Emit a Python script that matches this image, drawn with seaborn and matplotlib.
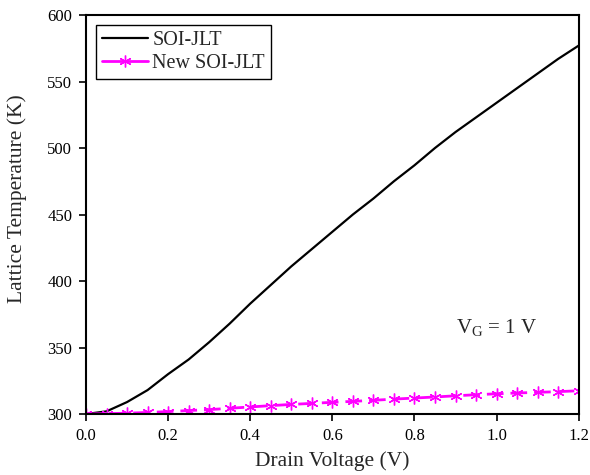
import matplotlib
matplotlib.use("Agg")
import matplotlib.pyplot as plt
import seaborn as sns
import pandas as pd

vd = [0.0, 0.05, 0.1, 0.15, 0.2, 0.25, 0.3, 0.35, 0.4, 0.45, 0.5, 0.55, 0.6,
      0.65, 0.7, 0.75, 0.8, 0.85, 0.9, 0.95, 1.0, 1.05, 1.1, 1.15, 1.2]
soi_jlt = [300, 302, 309, 318, 330, 341, 354, 368, 383, 397, 411, 424, 437,
           450, 462, 475, 487, 500, 512, 523, 534, 545, 556, 567, 577]
new_soi_jlt = [300, 300.3, 300.6, 301.2, 301.8, 302.6, 303.3, 304.3, 305.3, 306.3,
               307.2, 308.0, 308.8, 309.5, 310.3, 311.2, 312.0, 312.8, 313.7, 314.5,
               315.2, 315.8, 316.3, 316.8, 317.5]
xticks = [0.0, 0.2, 0.4, 0.6, 0.8, 1.0, 1.2]
yticks = [300, 350, 400, 450, 500, 550, 600]

sns.set_style("ticks")
plt.rcParams["font.family"] = ["Liberation Serif", "DejaVu Serif"]
plt.rcParams["mathtext.fontset"] = "custom"
plt.rcParams["mathtext.rm"] = "Liberation Serif"
plt.rcParams["mathtext.it"] = "Liberation Serif:italic"

df1 = pd.DataFrame({"Vd": vd, "T": soi_jlt})
df2 = pd.DataFrame({"Vd": vd, "T": new_soi_jlt})

fig = plt.figure(figsize=(5.9, 4.75), dpi=100)
ax = fig.add_axes([0.1458, 0.1284, 0.835, 0.8400])

sns.lineplot(data=df1, x="Vd", y="T", ax=ax, color="black", linewidth=1.6,
             label="SOI-JLT")
sns.lineplot(data=df2, x="Vd", y="T", ax=ax, color="#ff00ff", linewidth=2.0,
             marker=(6, 2, 0), markersize=8.5, markeredgewidth=1.0,
             markeredgecolor="#ff00ff", dashes=False, label="New SOI-JLT")
ax.lines[-1].set_dashes([6, 2.5])

ax.set_xlim(0, 1.2)
ax.set_ylim(300, 600)
ax.set_xticks(xticks)
ax.set_xticklabels([f"{t:.1f}" for t in xticks])
ax.set_yticks(yticks)
ax.tick_params(axis="both", direction="out", length=5, width=1.2, labelsize=12,
               pad=5, top=False, right=False, color="black", labelcolor="black")
for s in ax.spines.values():
    s.set_visible(True)
    s.set_linewidth(1.5)
    s.set_color("black")

ax.set_xlabel("Drain Voltage (V)", fontsize=15.5, labelpad=5)
ax.set_ylabel("Lattice Temperature (K)", fontsize=15.5)
ax.yaxis.set_label_coords(-0.12, 0.539)

ax.text(1.0, 365, r"$\mathregular{V_G}$ = 1 V", fontsize=15, ha="center", va="center")

leg = ax.legend(loc="upper left", fontsize=14.5, frameon=True, fancybox=False,
                edgecolor="black", framealpha=1, handlelength=2.3,
                borderpad=0.3, labelspacing=0.2, handletextpad=0.2,
                borderaxespad=0.5)
leg.get_frame().set_linewidth(1.0)
leg.get_lines()[1].set_linestyle("-")

fig.savefig("out.png", dpi=100)
